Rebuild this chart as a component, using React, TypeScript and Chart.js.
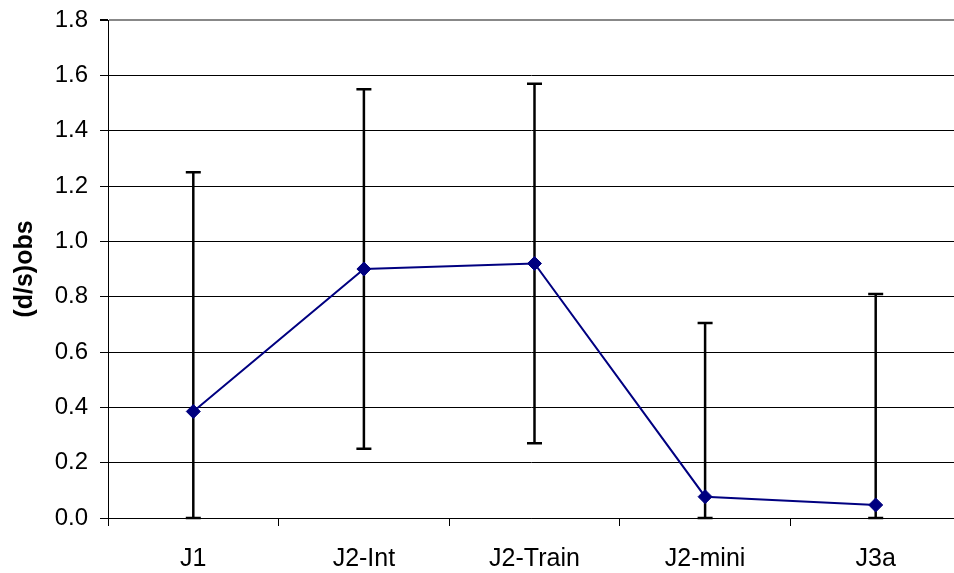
import React, { useEffect, useRef } from "react";
import { Chart, registerables } from "chart.js";

Chart.register(...registerables);

const categories = ["J1", "J2-Int", "J2-Train", "J2-mini", "J3a"];
const meanValues = [0.385, 0.9, 0.92, 0.077, 0.047];
const errLow = [0, 0.25, 0.27, 0, 0];
const errHigh = [1.25, 1.55, 1.57, 0.705, 0.81];
const yMin = 0;
const yMax = 1.8;
const yStep = 0.2;
const yTitle = "(d/s)obs";
// visible x range (the plot is cut at the right edge of the picture)
const xMin = -0.5;
const xMax = 4.459;

const FONT = "'Liberation Sans', Arial, sans-serif";

const isInt = (v: number) => Math.abs(v - Math.round(v)) < 1e-6;

const errorBarPlugin = {
  id: "errorBars",
  beforeDatasetsDraw(chart: any) {
    const { ctx, scales } = chart;
    const x = scales.x;
    const y = scales.y;
    ctx.save();
    ctx.strokeStyle = "#000";
    ctx.lineWidth = 2.5;
    ctx.lineCap = "butt";
    categories.forEach((_, i) => {
      const px = x.getPixelForValue(i);
      const top = y.getPixelForValue(errHigh[i]);
      const bot = y.getPixelForValue(errLow[i]);
      ctx.beginPath();
      ctx.moveTo(px, top);
      ctx.lineTo(px, bot);
      ctx.stroke();
      ctx.beginPath();
      ctx.moveTo(px - 7.5, top);
      ctx.lineTo(px + 7.5, top);
      ctx.moveTo(px - 7.5, bot);
      ctx.lineTo(px + 7.5, bot);
      ctx.stroke();
    });
    ctx.restore();
  },
};

export default function App() {
  const ref = useRef<HTMLCanvasElement>(null);

  useEffect(() => {
    if (!ref.current) return;
    const chart = new Chart(ref.current, {
      type: "line",
      data: {
        datasets: [
          {
            data: categories.map((_, i) => ({ x: i, y: meanValues[i] })),
            borderColor: "#000080",
            backgroundColor: "#000080",
            borderWidth: 2,
            pointStyle: "rectRot",
            pointRadius: 7,
            pointBorderWidth: 1,
            pointBackgroundColor: "#000080",
            pointBorderColor: "#000080",
            tension: 0,
            fill: false,
          },
        ],
      },
      options: {
        animation: false,
        responsive: false,
        devicePixelRatio: 1,
        layout: { autoPadding: false, padding: { left: 0, top: 20, right: 0, bottom: 0 } },
        plugins: {
          legend: { display: false },
          tooltip: { enabled: false },
        },
        scales: {
          x: {
            type: "linear",
            min: xMin,
            max: xMax,
            afterBuildTicks: (axis: any) => {
              const t: any[] = [];
              for (let v = -0.5; v <= xMax + 1e-9; v += 0.5) t.push({ value: v });
              axis.ticks = t;
            },
            grid: {
              drawOnChartArea: false,
              drawTicks: true,
              tickLength: 8,
              color: "#000",
              tickColor: (c: any) =>
                c.tick && isInt(c.tick.value) ? "rgba(0,0,0,0)" : "#000",
              lineWidth: 1,
            },
            border: { display: true, color: "#000", width: 1 },
            ticks: {
              color: "#000",
              font: { family: FONT, size: 25 },
              padding: 18,
              maxRotation: 0,
              minRotation: 0,
              autoSkip: false,
              callback: (v: any) => (isInt(Number(v)) ? categories[Math.round(Number(v))] ?? "" : ""),
            },
            afterFit: (axis: any) => {
              axis.height = 55;
              axis.paddingLeft = 0;
              axis.paddingRight = 0;
            },
          },
          y: {
            min: yMin,
            max: yMax,
            grid: {
              color: (c: any) =>
                c.tick && Math.abs(c.tick.value - yMax) < 1e-6 ? "#888" : "#000",
              lineWidth: (c: any) =>
                c.tick && Math.abs(c.tick.value - yMax) < 1e-6 ? 2 : 1,
              tickColor: "#000",
              drawTicks: true,
              tickLength: 8,
            },
            border: { display: true, color: "#000", width: 1 },
            ticks: {
              stepSize: yStep,
              color: "#000",
              font: { family: FONT, size: 24 },
              padding: 12,
              callback: (v: any) => Number(v).toFixed(1),
            },
            title: {
              display: true,
              text: yTitle,
              color: "#000",
              font: { family: FONT, size: 25, weight: "bold" },
              padding: { top: 10, bottom: 0 },
            },
            afterFit: (axis: any) => {
              axis.width = 108;
              axis.paddingTop = 0;
              axis.paddingBottom = 0;
            },
          },
        },
      },
      plugins: [errorBarPlugin],
    });
    return () => chart.destroy();
  }, []);

  return (
    <div
      style={{
        position: "absolute",
        left: 0,
        top: 0,
        width: 954,
        height: 573,
        overflow: "hidden",
        background: "#fff",
      }}
    >
      <canvas ref={ref} width={954} height={573} style={{ display: "block" }} />
    </div>
  );
}
